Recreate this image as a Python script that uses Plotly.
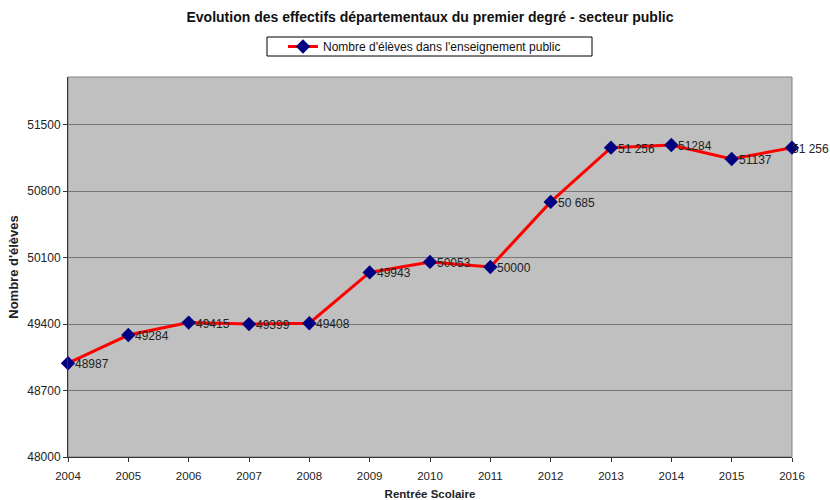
import plotly.graph_objects as go

# Rentrée scolaire (years) and number of pupils in the public sector
years = [2004, 2005, 2006, 2007, 2008, 2009, 2010, 2011, 2012, 2013, 2014, 2015, 2016]
pupils = [48987, 49284, 49415, 49399, 49408, 49943, 50053, 50000, 50685, 51256, 51284, 51137, 51256]
point_labels = ["48987", "49284", "49415", "49399", "49408", "49943", "50053", "50000",
                "50 685", "51 256", "51284", "51137", "51 256"]
y_ticks = [48000, 48700, 49400, 50100, 50800, 51500]

FONT = "Liberation Sans, Arial, sans-serif"

fig = go.Figure()
fig.add_trace(go.Scatter(
    x=years,
    y=pupils,
    mode="lines+markers",
    name="Nombre d'élèves dans l'enseignement public",
    line=dict(color="#FF0000", width=3),
    marker=dict(symbol="diamond", size=11, color="#000080"),
    cliponaxis=False,
))

# Value labels to the right of each point (the last one is tucked closer to stay on the page)
for i, (yr, val, lab) in enumerate(zip(years, pupils, point_labels)):
    fig.add_annotation(
        x=yr, y=val, text=lab, showarrow=False,
        xanchor="left", yanchor="middle",
        xshift=-2 if i == len(years) - 1 else 5, yshift=-1,
        font=dict(family=FONT, size=12, color="#222222"),
    )

# Grey frame around the plotting area (top and right edges)
fig.add_shape(type="rect", xref="paper", yref="paper", x0=0, y0=0, x1=1, y1=1,
              line=dict(color="#808080", width=1), layer="below")

# Legend frame
fig.add_shape(type="rect", xref="paper", yref="paper",
              x0=(267 - 68) / 724, x1=(592 - 68) / 724,
              y0=1 + (77 - 56) / 380, y1=1 + (77 - 37) / 380,
              line=dict(color="#000000", width=1), fillcolor="white", layer="below")

fig.update_layout(
    width=830,
    height=500,
    margin=dict(l=68, r=38, t=77, b=43),
    paper_bgcolor="white",
    plot_bgcolor="#C0C0C0",
    font=dict(family=FONT, size=11, color="#222222"),
    title=dict(
        text="<b>Evolution des effectifs départementaux du premier degré - secteur public</b>",
        font=dict(family=FONT, size=14, color="#111111"),
        x=0.5, xref="paper", xanchor="center",
        y=1 - 17 / 500, yref="container", yanchor="middle",
    ),
    showlegend=True,
    legend=dict(
        orientation="h",
        x=(283 - 68) / 724, xanchor="left",
        y=1 + (77 - 46.5) / 380, yanchor="middle",
        bgcolor="rgba(0,0,0,0)",
        borderwidth=0,
        font=dict(family=FONT, size=12, color="#111111"),
    ),
    xaxis=dict(
        range=[2004, 2016],
        tickmode="array",
        tickvals=years,
        ticktext=[str(y) for y in years],
        showgrid=False,
        zeroline=False,
        showline=True,
        linecolor="#333333",
        linewidth=1,
        ticks="outside",
        ticklen=4,
        tickcolor="#333333",
        tickfont=dict(family=FONT, size=11.5, color="#222222"),
        ticklabelstandoff=4,
        automargin=False,
        title=dict(text="<b>Rentrée Scolaire</b>", standoff=12,
                   font=dict(family=FONT, size=11.5, color="#222222")),
    ),
    yaxis=dict(
        range=[48000, 52000],
        tickmode="array",
        tickvals=y_ticks,
        ticktext=[str(v) for v in y_ticks],
        showgrid=True,
        gridcolor="#777777",
        gridwidth=1,
        zeroline=False,
        showline=True,
        linecolor="#333333",
        linewidth=1,
        ticks="outside",
        ticklen=4,
        tickcolor="#333333",
        tickfont=dict(family=FONT, size=12, color="#222222"),
        automargin=False,
        title=dict(text="<b>Nombre d'élèves</b>", standoff=5,
                   font=dict(family=FONT, size=13, color="#222222")),
    ),
)

fig.write_html("out.html")
